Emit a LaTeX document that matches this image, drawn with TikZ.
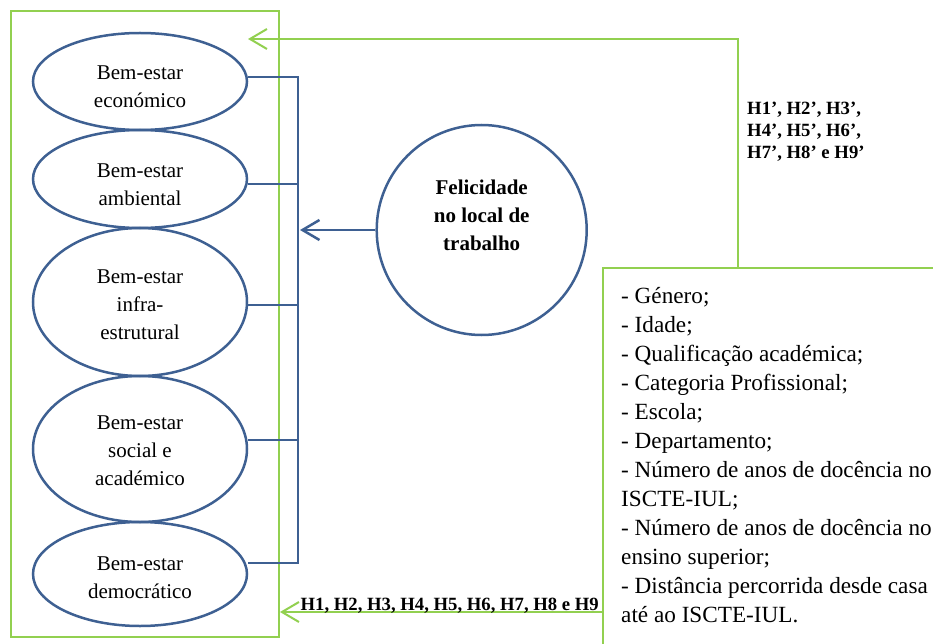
\documentclass[tikz,border=0pt]{standalone}
\usepackage{fontspec}
\setmainfont{Liberation Serif}
\usetikzlibrary{shapes.geometric,arrows.meta}
\definecolor{bl}{RGB}{62,96,146}
\definecolor{gr}{RGB}{146,208,80}
\begin{document}
\begin{tikzpicture}[x=1pt,y=-1pt,
  ell/.style={draw=bl,line width=2.5pt,ellipse,minimum width=214pt,inner sep=0pt},
  etext/.style={align=center,inner sep=0pt,font=\fontsize{21}{28}\selectfont},
  bline/.style={draw=bl,line width=2.5pt},
  gline/.style={draw=gr,line width=2pt},
  barb/.style={-{Straight Barb[length=17pt,width=20pt]}},
  hlab/.style={inner sep=0pt,font=\fontsize{18.7}{22}\selectfont\bfseries}
]
\useasboundingbox (0,0) rectangle (933,644);
% left frame
\node[draw=gr,line width=2pt,minimum width=268pt,minimum height=626pt,anchor=north west,inner sep=0pt] (frame) at (10,10) {};
% ellipses
\node[ell,minimum height=97pt]  (e1) at (140,81.5) {};
\node[ell,minimum height=98pt]  (e2) at (140,179) {};
\node[ell,minimum height=148pt] (e3) at (140,302) {};
\node[ell,minimum height=146pt] (e4) at (140,449) {};
\node[ell,minimum height=104pt] (e5) at (140,574) {};
\node[etext] (t1) at (140,86.5) {Bem-estar\\económico};
\node[etext] (t2) at (140,185) {Bem-estar\\ambiental};
\node[etext] (t3) at (140,305) {Bem-estar\\infra-\\estrutural};
\node[etext] (t4) at (140,451) {Bem-estar\\social e\\académico};
\node[etext] (t5) at (140,578) {Bem-estar\\democrático};
% circle
\node[draw=bl,line width=2.5pt,circle,minimum size=210pt,inner sep=0pt] (felic) at (481.7,230) {};
\node[align=center,inner sep=0pt,font=\fontsize{21}{28}\selectfont\bfseries] (felictxt) at (481.7,215) {Felicidade\\no local de\\trabalho};
% bus
\coordinate (bus) at (298,0);
\coordinate (btop) at (298,77);
\coordinate (bbot) at (298,563);
\coordinate (atip) at (300,230);
\draw[bline] ([yshift=4.5pt]e1.east) -- (btop);
\draw[bline] ([yshift=-5pt]e2.east) -- ([yshift=-5pt]e2.east -| bus);
\draw[bline] ([yshift=-3pt]e3.east) -- ([yshift=-3pt]e3.east -| bus);
\draw[bline] ([yshift=9pt]e4.east) -- ([yshift=9pt]e4.east -| bus);
\draw[bline] ([yshift=11pt]e5.east) -- (bbot);
\draw[bline,line cap=rect] (btop) -- (bbot);
\draw[bline,barb] (felic.west) -- (atip);
% variables box
\node[draw=gr,line width=2pt,minimum width=400pt,minimum height=420pt,anchor=north west,inner sep=0pt] (box) at (602,267) {};
\node[anchor=north west,align=left,inner sep=0pt,font=\fontsize{23.2}{29}\selectfont] (vars) at (621,287) {- Género;\\- Idade;\\- Qualificação académica;\\- Categoria Profissional;\\- Escola;\\- Departamento;\\- Número de anos de docência no\\ISCTE-IUL;\\- Número de anos de docência no\\ensino superior;\\- Distância percorrida desde casa\\até ao ISCTE-IUL.};
% green arrows
\coordinate (ttip) at (248,39);
\coordinate (btip) at (280,612);
\draw[gline,barb] ([xshift=136pt]box.north west) |- (ttip);
\draw[gline,barb] (box.west |- btip) -- (btip);
\node[hlab,align=left,anchor=north west] (hp) at (747,102) {H1’, H2’, H3’,\\H4’, H5’, H6’,\\H7’, H8’ e H9’};
\node[hlab,anchor=base east] (h) at (599,610) {H1, H2, H3, H4, H5, H6, H7, H8 e H9};
\end{tikzpicture}
\end{document}
